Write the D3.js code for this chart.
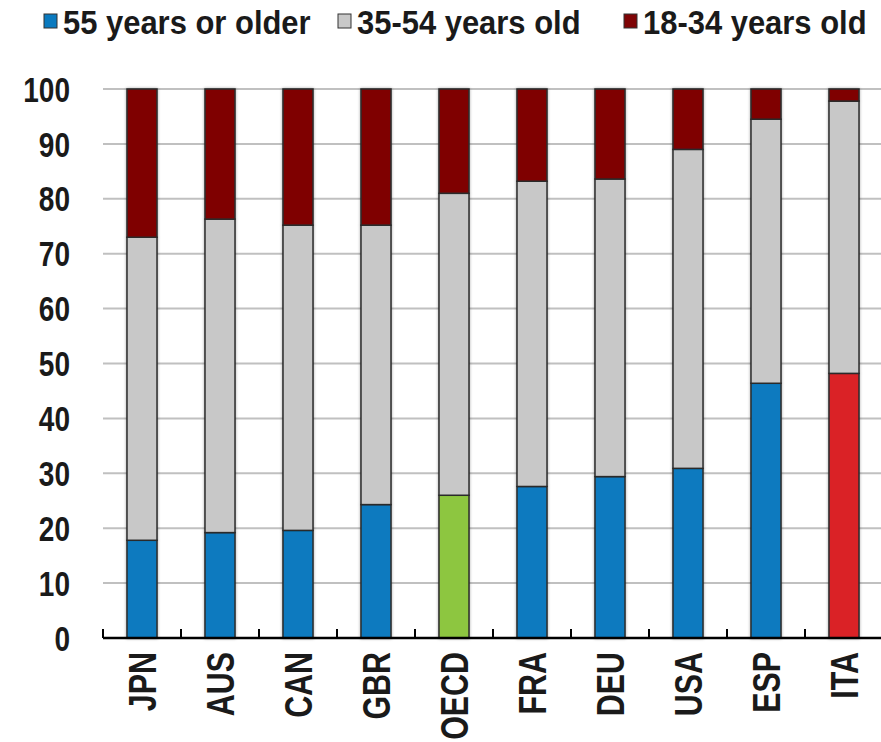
<!DOCTYPE html>
<html>
<head>
<meta charset="utf-8">
<script src="https://cdn.jsdelivr.net/npm/d3@7"></script>
<style>
  body { margin: 0; background: #fff; }
  text { font-family: "Liberation Sans", Arial, sans-serif; font-weight: bold; fill: #1a1a1a; }
</style>
</head>
<body>
<div id="chart"></div>
<script>
// data
const countries = ["JPN", "AUS", "CAN", "GBR", "OECD", "FRA", "DEU", "USA", "ESP", "ITA"];
const older = [17.8, 19.2, 19.6, 24.3, 26.0, 27.6, 29.4, 30.9, 46.4, 48.2];
const middle = [55.2, 57.1, 55.6, 50.9, 55.0, 55.6, 54.2, 58.1, 48.1, 49.6];
const young = [27.0, 23.7, 24.8, 24.8, 19.0, 16.8, 16.4, 11.0, 5.5, 2.2];
const seriesNames = ["55 years or older", "35-54 years old", "18-34 years old"];
const seriesColors = ["#0a7abf", "#c8c8c8", "#7f0406"];
const yTicks = [0, 10, 20, 30, 40, 50, 60, 70, 80, 90, 100];

// chart properties
const WIDTH = 881;
const HEIGHT = 742;
const margin = { top: 89, right: -2, bottom: 104, left: 103 };
const NARROW = 0.8; // squeeze Liberation Sans to look like Arial Narrow

const rows = countries.map((c, i) => ({ c: c, s0: older[i], s1: middle[i], s2: young[i] }));
const stacked = d3.stack().keys(["s0", "s1", "s2"])(rows);

const svg = d3.select("#chart")
    .append("svg")
    .attr("width", WIDTH)
    .attr("height", HEIGHT);

const defs = svg.append("defs");
defs.append("filter")
    .attr("id", "shadow")
    .attr("x", "-20%").attr("y", "-5%")
    .attr("width", "140%").attr("height", "110%")
    .append("feDropShadow")
    .attr("dx", 0).attr("dy", 0)
    .attr("stdDeviation", 1.5)
    .attr("flood-color", "#000")
    .attr("flood-opacity", 0.35);

const xScale = d3.scaleBand()
    .domain(countries)
    .range([margin.left, WIDTH - margin.right])
    .paddingInner(0.615)
    .paddingOuter(0.3075);

const yScale = d3.scaleLinear()
    .domain([0, 100])
    .range([HEIGHT - margin.bottom, margin.top]);

// gridlines
svg.append("g")
    .selectAll("line")
    .data(yTicks.filter(d => d > 0))
    .join("line")
    .attr("x1", margin.left)
    .attr("x2", WIDTH)
    .attr("y1", d => yScale(d))
    .attr("y2", d => yScale(d))
    .attr("stroke", "#c0c0c0")
    .attr("stroke-width", 2);

// bars
function barColor(key, d) {
    if (key === "s0" && d.data.c === "OECD") return "#8dc63f";
    if (key === "s0" && d.data.c === "ITA") return "#da2128";
    return seriesColors[["s0", "s1", "s2"].indexOf(key)];
}

const barG = svg.append("g").attr("filter", "url(#shadow)");
stacked.forEach(layer => {
    barG.selectAll(null)
        .data(layer)
        .join("rect")
        .attr("x", d => xScale(d.data.c))
        .attr("width", xScale.bandwidth())
        .attr("y", d => yScale(d[1]))
        .attr("height", d => yScale(d[0]) - yScale(d[1]))
        .attr("fill", d => barColor(layer.key, d))
        .attr("stroke", "#2a2a2a")
        .attr("stroke-width", 1.5);
});

// y axis labels
svg.append("g")
    .selectAll("text")
    .data(yTicks)
    .join("text")
    .attr("transform", d => `translate(70, ${yScale(d)}) scale(${NARROW}, 1)`)
    .attr("text-anchor", "end")
    .attr("dy", "0.36em")
    .attr("font-size", 35)
    .text(d => d);

// x axis
const tickPos = countries.map(c => xScale(c) - xScale.step() * xScale.paddingInner() / 2);
const axisY = yScale(0);
svg.append("line")
    .attr("x1", margin.left)
    .attr("x2", WIDTH)
    .attr("y1", axisY)
    .attr("y2", axisY)
    .attr("stroke", "#000")
    .attr("stroke-width", 2.5);

svg.append("g")
    .selectAll("line")
    .data(tickPos)
    .join("line")
    .attr("x1", d => d)
    .attr("x2", d => d)
    .attr("y1", axisY)
    .attr("y2", axisY - 9)
    .attr("stroke", "#000")
    .attr("stroke-width", 2);

svg.append("g")
    .selectAll("text")
    .data(countries)
    .join("text")
    .attr("transform", d => `translate(${xScale(d) + xScale.bandwidth() / 2}, ${axisY + 14}) rotate(-90) scale(${NARROW}, 1)`)
    .attr("text-anchor", "end")
    .attr("dy", "0.36em")
    .attr("font-size", 38)
    .text(d => d);

// legend
const legendX = [44, 338, 624];
const legend = svg.append("g");
seriesNames.forEach((name, i) => {
    const item = legend.append("g").attr("transform", `translate(${legendX[i]}, 14)`);
    item.append("rect")
        .attr("width", 13)
        .attr("height", 14)
        .attr("fill", seriesColors[i])
        .attr("stroke", "#333")
        .attr("stroke-width", 1);
    item.append("text")
        .attr("transform", `translate(19, 8) scale(0.91, 1)`)
        .attr("dy", "0.36em")
        .attr("font-size", 34)
        .text(name);
});
</script>
</body>
</html>
